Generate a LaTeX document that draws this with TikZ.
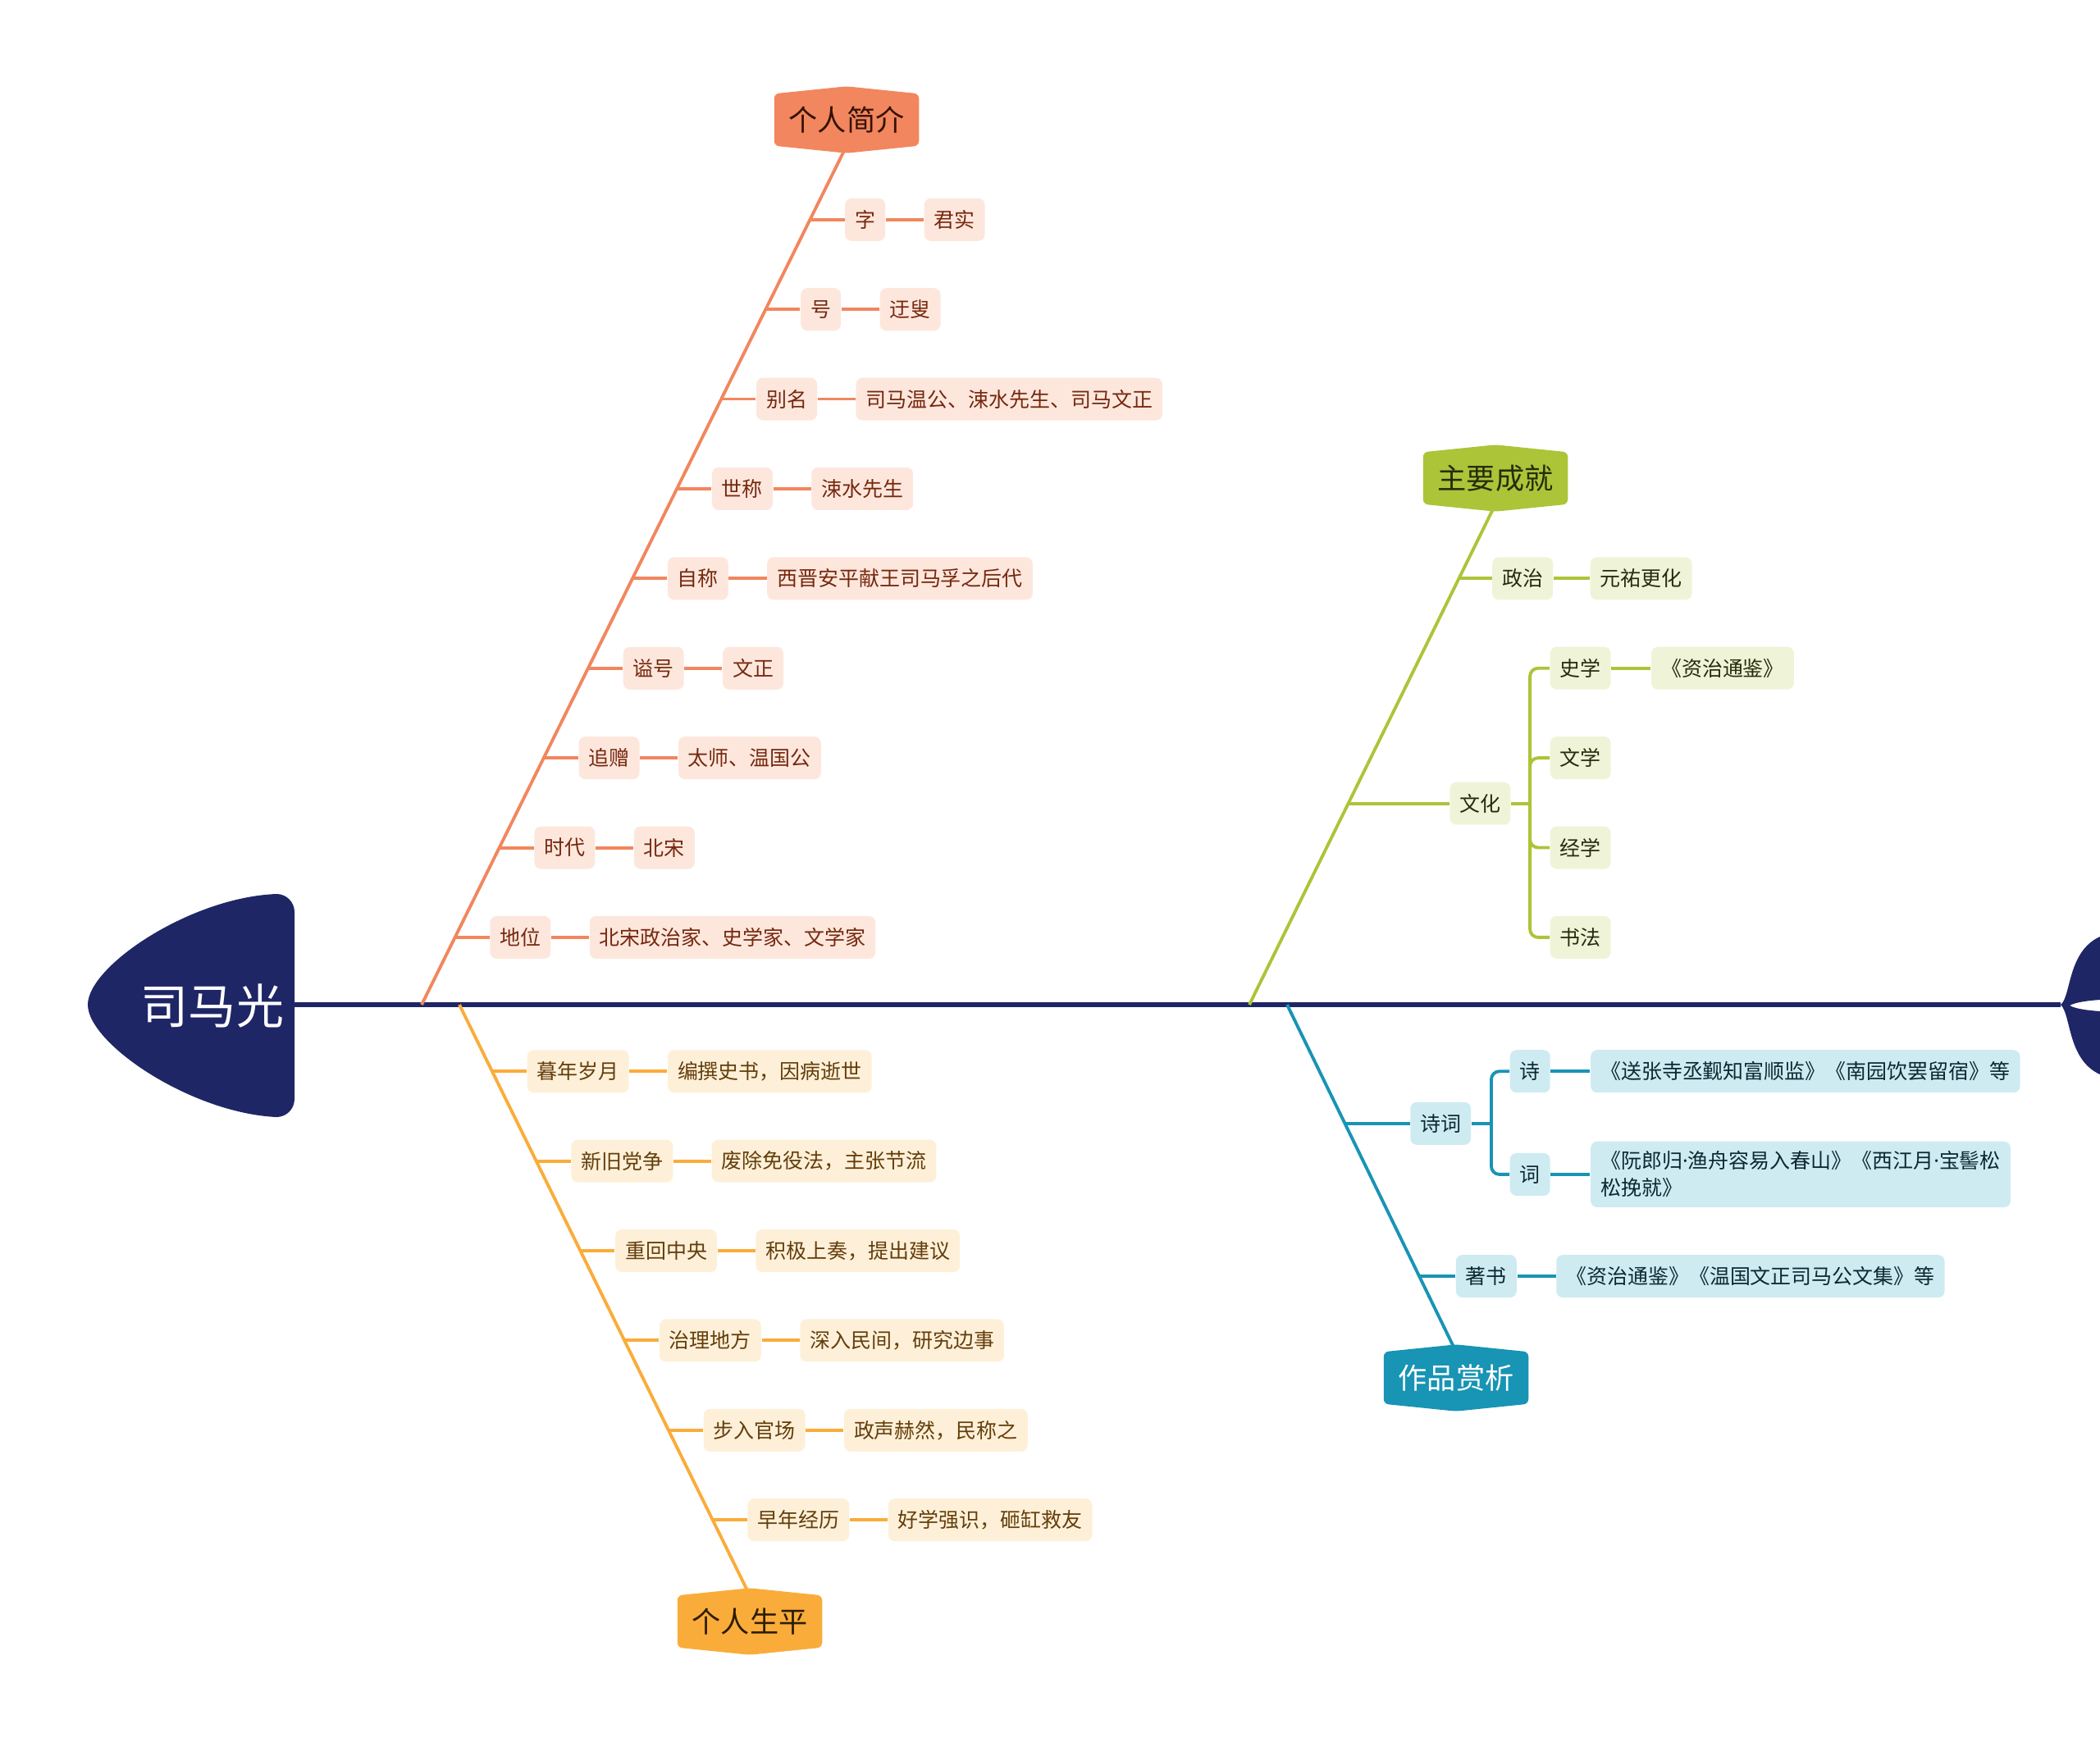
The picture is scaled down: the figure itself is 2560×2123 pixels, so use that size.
\documentclass[tikz,border=0pt]{standalone}
\usepackage{fontspec}
\setmainfont{Noto Sans CJK SC}
\newfontfamily\dotfont{Noto Sans}
\usetikzlibrary{positioning, calc, backgrounds}
\definecolor{cNavy}{RGB}{31,38,102}
\definecolor{cOrange}{RGB}{242,134,94}
\definecolor{cOrangeL}{RGB}{253,231,221}
\definecolor{cOrangeT}{RGB}{118,40,14}
\definecolor{cAmber}{RGB}{250,172,58}
\definecolor{cAmberL}{RGB}{254,240,216}
\definecolor{cAmberT}{RGB}{100,62,12}
\definecolor{cLime}{RGB}{172,196,56}
\definecolor{cLimeL}{RGB}{239,244,216}
\definecolor{cLimeT}{RGB}{38,44,12}
\definecolor{cTeal}{RGB}{24,148,180}
\definecolor{cTealL}{RGB}{206,235,242}
\definecolor{cTealT}{RGB}{14,40,50}
\newcommand{\hexfill}[2]{\fill[#2, rounded corners=0.06cm] (#1.north west) -- ($(#1.north)+(0,0.09cm)$) -- (#1.north east) -- (#1.south east) -- ($(#1.south)+(0,-0.09cm)$) -- (#1.south west) -- cycle;}
\newcommand{\md}{{\dotfont ·}}
\tikzset{
	% fishbone styles
	cat/.style ={rectangle, minimum width=1.75cm, minimum height=0.62cm, inner sep=0pt, font=\fontsize{10pt}{12pt}\selectfont},
	leaf/.style={rectangle, rounded corners=0.08cm, minimum height=0.52cm, inner xsep=0.12cm, inner ysep=0.12cm, align=left, font=\fontsize{7.1pt}{9.4pt}\selectfont},
	bone/.style={line width=1.1pt},
	twig/.style={line width=1.1pt},
	% one colour set per branch
	lfO/.style ={leaf, fill=cOrangeL, text=cOrangeT},
	lfA/.style ={leaf, fill=cAmberL, text=cAmberT},
	lfG/.style ={leaf, fill=cLimeL, text=cLimeT},
	lfT/.style ={leaf, fill=cTealL, text=cTealT},
}
\begin{document}
\begin{tikzpicture}[x=0.01cm, y=-0.01cm]
	\useasboundingbox (0,0) rectangle (2560,2123);
	\node[font=\fontsize{16.5pt}{20pt}\selectfont, text=white] (hd) at (259,1226) {司马光};
	\coordinate (spL) at (359,1225);
	\coordinate (spR) at (2512,1225);
	\coordinate (oR) at (514,1225);
	\coordinate (aR) at (560,1225);
	\coordinate (gR) at (1523,1225);
	\coordinate (tR) at (1569,1225);
	\node[cat, text=cOrangeT!45!black] (pInfo) at (1032,146) {个人简介};
	\node[cat, text=cAmberT!45!black] (pLife) at (914,1977) {个人生平};
	\node[cat, text=cLimeT] (pAch) at (1823,583) {主要成就};
	\node[cat, text=white] (pWork) at (1775,1680) {作品赏析};
	\begin{scope}[on background layer]
		\fill[cNavy] (spL) -- (359,1112) to[out=90,in=0] (337,1090) .. controls (232,1094) and (107,1178) .. (107,1225) .. controls (107,1272) and (232,1357) .. (337,1362) to[out=0,in=-90] (359,1340) -- cycle;
		\fill[cNavy] (spR) .. controls (2525,1215) and (2520,1160) .. (2560,1142) -- (2560,1219) .. controls (2545,1220) and (2530,1222) .. (2523,1226) .. controls (2530,1230) and (2545,1232) .. (2560,1233) -- (2560,1310) .. controls (2520,1292) and (2525,1237) .. (spR) -- cycle;
		\draw[cNavy, line width=1.5pt] (spL) -- (spR);
		\draw[bone, cOrange] (oR) -- (pInfo.south);
		\draw[bone, cAmber] (aR) -- (pLife.north);
		\draw[bone, cLime] (gR) -- (pAch.south);
		\draw[bone, cTeal] (tR) -- (pWork.north);
		\hexfill{pInfo}{cOrange}
		\hexfill{pLife}{cAmber}
		\hexfill{pAch}{cLime}
		\hexfill{pWork}{cTeal}
	\end{scope}
	% 个人简介
	\coordinate (oj1) at (intersection of oR--pInfo.south and 0,267.8--1,267.8);
	\coordinate (oj2) at (intersection of oR--pInfo.south and 0,377.2--1,377.2);
	\coordinate (oj3) at (intersection of oR--pInfo.south and 0,486.5--1,486.5);
	\coordinate (oj4) at (intersection of oR--pInfo.south and 0,595.9--1,595.9);
	\coordinate (oj5) at (intersection of oR--pInfo.south and 0,705.3--1,705.3);
	\coordinate (oj6) at (intersection of oR--pInfo.south and 0,814.7--1,814.7);
	\coordinate (oj7) at (intersection of oR--pInfo.south and 0,924.1--1,924.1);
	\coordinate (oj8) at (intersection of oR--pInfo.south and 0,1033.5--1,1033.5);
	\coordinate (oj9) at (intersection of oR--pInfo.south and 0,1142.9--1,1142.9);
	\node[lfO, right=0.42cm of oj1] (ol1) {字};
	\node[lfO, right=0.46cm of ol1] (ov1) {君实};
	\node[lfO, right=0.42cm of oj2] (ol2) {号};
	\node[lfO, right=0.46cm of ol2] (ov2) {迂叟};
	\node[lfO, right=0.42cm of oj3] (ol3) {别名};
	\node[lfO, right=0.46cm of ol3] (ov3) {司马温公、涑水先生、司马文正};
	\node[lfO, right=0.42cm of oj4] (ol4) {世称};
	\node[lfO, right=0.46cm of ol4] (ov4) {涑水先生};
	\node[lfO, right=0.42cm of oj5] (ol5) {自称};
	\node[lfO, right=0.46cm of ol5] (ov5) {西晋安平献王司马孚之后代};
	\node[lfO, right=0.42cm of oj6] (ol6) {谥号};
	\node[lfO, right=0.46cm of ol6] (ov6) {文正};
	\node[lfO, right=0.42cm of oj7] (ol7) {追赠};
	\node[lfO, right=0.46cm of ol7] (ov7) {太师、温国公};
	\node[lfO, right=0.42cm of oj8] (ol8) {时代};
	\node[lfO, right=0.46cm of ol8] (ov8) {北宋};
	\node[lfO, right=0.42cm of oj9] (ol9) {地位};
	\node[lfO, right=0.46cm of ol9] (ov9) {北宋政治家、史学家、文学家};
	\draw[twig, cOrange] (oj1) -- (ol1) -- (ov1) (oj2) -- (ol2) -- (ov2) (oj3) -- (ol3) -- (ov3);
	\draw[twig, cOrange] (oj4) -- (ol4) -- (ov4) (oj5) -- (ol5) -- (ov5) (oj6) -- (ol6) -- (ov6);
	\draw[twig, cOrange] (oj7) -- (ol7) -- (ov7) (oj8) -- (ol8) -- (ov8) (oj9) -- (ol9) -- (ov9);
	% 个人生平
	\coordinate (aj1) at (intersection of aR--pLife.north and 0,1306.2--1,1306.2);
	\coordinate (aj2) at (intersection of aR--pLife.north and 0,1415.5--1,1415.5);
	\coordinate (aj3) at (intersection of aR--pLife.north and 0,1524.9--1,1524.9);
	\coordinate (aj4) at (intersection of aR--pLife.north and 0,1634.3--1,1634.3);
	\coordinate (aj5) at (intersection of aR--pLife.north and 0,1743.7--1,1743.7);
	\coordinate (aj6) at (intersection of aR--pLife.north and 0,1853.1--1,1853.1);
	\node[lfA, right=0.42cm of aj1] (al1) {暮年岁月};
	\node[lfA, right=0.46cm of al1] (av1) {编撰史书，因病逝世};
	\node[lfA, right=0.42cm of aj2] (al2) {新旧党争};
	\node[lfA, right=0.46cm of al2] (av2) {废除免役法，主张节流};
	\node[lfA, right=0.42cm of aj3] (al3) {重回中央};
	\node[lfA, right=0.46cm of al3] (av3) {积极上奏，提出建议};
	\node[lfA, right=0.42cm of aj4] (al4) {治理地方};
	\node[lfA, right=0.46cm of al4] (av4) {深入民间，研究边事};
	\node[lfA, right=0.42cm of aj5] (al5) {步入官场};
	\node[lfA, right=0.46cm of al5] (av5) {政声赫然，民称之};
	\node[lfA, right=0.42cm of aj6] (al6) {早年经历};
	\node[lfA, right=0.46cm of al6] (av6) {好学强识，砸缸救友};
	\draw[twig, cAmber] (aj1) -- (al1) -- (av1) (aj2) -- (al2) -- (av2) (aj3) -- (al3) -- (av3);
	\draw[twig, cAmber] (aj4) -- (al4) -- (av4) (aj5) -- (al5) -- (av5) (aj6) -- (al6) -- (av6);
	% 主要成就
	\coordinate (gj1) at (intersection of gR--pAch.south and 0,705.3--1,705.3);
	\coordinate (gj2) at (intersection of gR--pAch.south and 0,979.6--1,979.6);
	\node[lfG, right=0.40cm of gj1] (gl1) {政治};
	\node[lfG, right=0.44cm of gl1] (gv1) {元祐更化};
	\node[lfG, right=1.23cm of gj2] (wh) {文化};
	\coordinate (wT) at ($(wh.east)+(0.23cm,0)$);
	\node[lfG, anchor=west] (w1) at (1889,814.7) {史学};
	\node[lfG, anchor=west] (w2) at (1889,924.1) {文学};
	\node[lfG, anchor=west] (w3) at (1889,1033.5) {经学};
	\node[lfG, anchor=west] (w4) at (1889,1142.9) {书法};
	\node[lfG, right=0.48cm of w1] (w1v) {《资治通鉴》};
	\draw[twig, cLime] (gj1) -- (gl1) -- (gv1) (gj2) -- (wh) -- (wT) (w1) -- (w1v);
	\draw[twig, cLime, rounded corners=0.1cm] (wT) |- (w1) (wT) |- (w2) (wT) |- (w3) (wT) |- (w4);
	% 作品赏析
	\coordinate (tj1) at (intersection of tR--pWork.north and 0,1369.8--1,1369.8);
	\coordinate (tj2) at (intersection of tR--pWork.north and 0,1556--1,1556);
	\node[lfT, right=0.79cm of tj1] (sc) {诗词};
	\coordinate (sT) at ($(sc.east)+(0.24cm,0)$);
	\node[lfT, anchor=west] (s1) at (1840,1306.2) {诗};
	\node[lfT, anchor=west] (s2) at (1840,1431.9) {词};
	\node[lfT, right=0.48cm of s1] (s1v) {《送张寺丞觐知富顺监》《南园饮罢留宿》等};
	\node[lfT, right=0.48cm of s2] (s2v) {《阮郎归\md 渔舟容易入春山》《西江月\md 宝髻松\\松挽就》};
	\node[lfT, right=0.44cm of tj2] (zs) {著书};
	\node[lfT, right=0.47cm of zs] (zsv) {《资治通鉴》《温国文正司马公文集》等};
	\draw[twig, cTeal] (tj1) -- (sc) -- (sT) (s1) -- (s1v) (s2) -- (s2v) (tj2) -- (zs) -- (zsv);
	\draw[twig, cTeal, rounded corners=0.1cm] (sT) |- (s1) (sT) |- (s2);
\end{tikzpicture}
\end{document}
